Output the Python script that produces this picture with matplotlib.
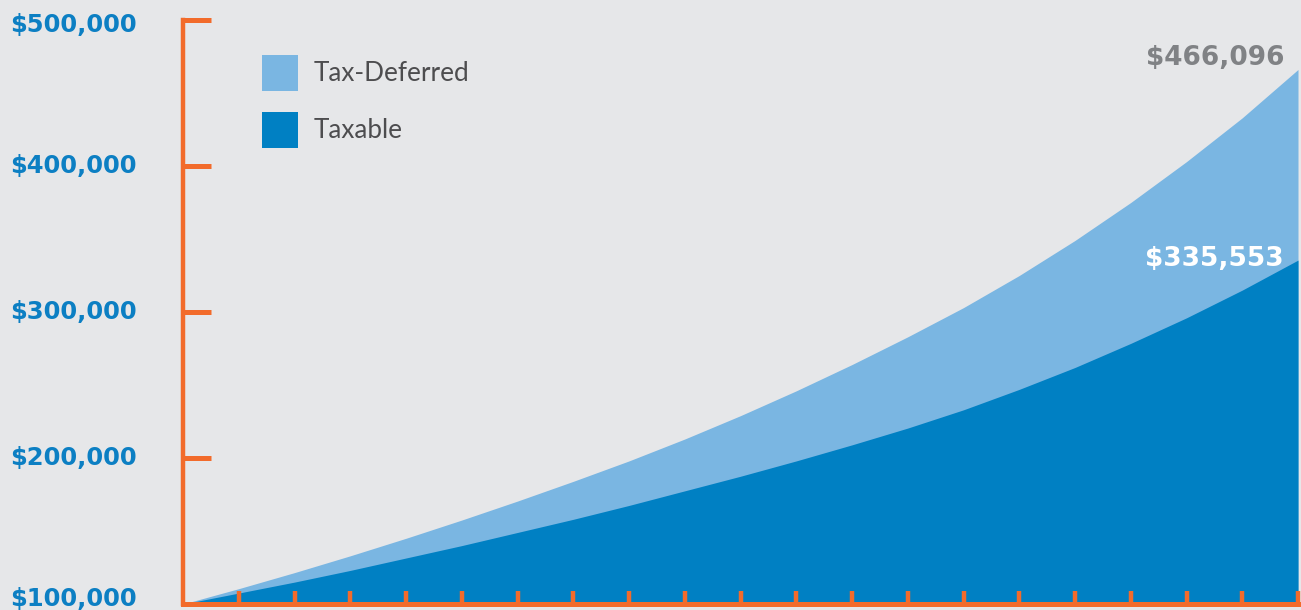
import matplotlib
matplotlib.use("Agg")
import matplotlib.pyplot as plt
from matplotlib import transforms

# values (dollars, by year)
years = list(range(0, 21))
tax_deferred = [100000, 110500, 121500, 133000, 145000, 157500, 170500, 184000, 198000, 213000,
                229000, 246000, 264000, 283000, 303000, 325000, 349000, 375000, 403000, 433000, 466096]
taxable = [100000, 107500, 115000, 123000, 131500, 140000, 149000, 158000, 167500, 177500,
           187500, 198000, 209000, 220500, 233000, 247000, 262000, 278500, 296000, 315000, 335553]
y_ticks = [100000, 200000, 300000, 400000, 500000]
series_names = ["Tax-Deferred", "Taxable"]

bg = '#e6e7e9'
orange = '#f26b2b'
light_blue = '#7ab6e2'
dark_blue = '#0080c3'
num_font = ['DejaVu Sans']

fig = plt.figure(figsize=(13.01, 6.10), dpi=100, facecolor=bg)
ax = fig.add_axes([183 / 1301, 6 / 610, 1115 / 1301, 584 / 610])
ax.set_facecolor(bg)

td = ax.fill_between(years, tax_deferred, y_ticks[0], color=light_blue, linewidth=0, label=series_names[0])
tx = ax.fill_between(years, taxable, y_ticks[0], color=dark_blue, linewidth=0, label=series_names[1])

ax.set_xlim(0, 20)
ax.set_ylim(y_ticks[0], y_ticks[-1])

ax.spines['top'].set_visible(False)
ax.spines['right'].set_visible(False)
ax.spines['left'].set_color(orange)
ax.spines['left'].set_linewidth(3.2)
ax.spines['bottom'].set_color(orange)
ax.spines['bottom'].set_linewidth(3.6)
ax.spines['left'].set_capstyle('projecting')

ax.set_xticks(years[1:])
ax.set_xticklabels([])
ax.tick_params(axis='x', direction='in', length=9.5, width=3.2, color=orange)
ax.set_yticks(y_ticks)
ax.set_yticklabels([])
ax.tick_params(axis='y', direction='in', length=20, width=3.6, color=orange)

# y labels, left aligned at the figure edge
blend = transforms.blended_transform_factory(fig.transFigure, ax.transData)
for v in y_ticks:
    dy = 0
    if v == y_ticks[-1]:
        dy = -5
    elif v == y_ticks[0]:
        dy = 5
    tr = transforms.offset_copy(blend, fig=fig, x=0, y=dy, units='dots')
    ax.text(10 / 1301, v, "${:,.0f}".format(v), transform=tr, ha='left', va='center',
            fontsize=17.5, fontweight='bold', color='#0c7fc3', family=num_font,
            clip_on=False)

ax.annotate("${:,.0f}".format(tax_deferred[-1]), xy=(years[-1], tax_deferred[-1]),
            xytext=(-10, 8), textcoords='offset points', ha='right', va='center',
            fontsize=19, fontweight='bold', color='#808285', family=num_font)
ax.annotate("${:,.0f}".format(taxable[-1]), xy=(years[-1], taxable[-1]),
            xytext=(-10, 1), textcoords='offset points', ha='right', va='center',
            fontsize=19, fontweight='bold', color='white', family=num_font)

leg = ax.legend(handles=[td, tx], loc='upper left', bbox_to_anchor=(262 / 1301, 1 - 55 / 610),
                bbox_transform=fig.transFigure, frameon=False, borderpad=0, borderaxespad=0,
                handlelength=1.38, handleheight=1.745, labelspacing=0.8, handletextpad=0.6,
                prop={'family': 'Lato', 'size': 18.8})
for t in leg.get_texts():
    t.set_color('#4d4d4f')

plt.savefig("out.png", dpi=100, facecolor=bg)
